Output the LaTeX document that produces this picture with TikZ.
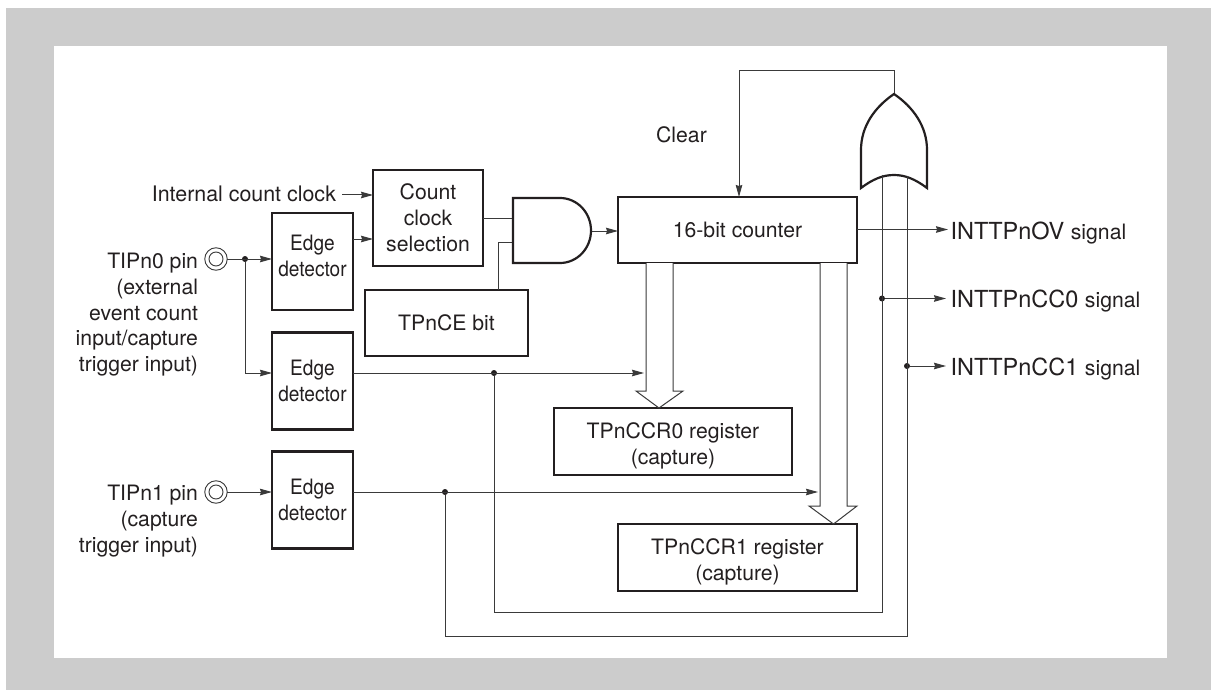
\documentclass[tikz,border=0pt]{standalone}
\usepackage{fontspec}
\usepackage{graphicx}
\setmainfont{TeX Gyre Heros}
\usetikzlibrary{arrows.meta,calc}
\definecolor{ink}{HTML}{231F20}
\definecolor{wire}{HTML}{3A3A3A}
\definecolor{bggray}{HTML}{CCCCCC}
\newcommand{\fmain}{\fontsize{21.2}{26}\selectfont}
\newcommand{\fbig}{\fontsize{23.5}{26}\selectfont}
\newcommand{\cond}[1]{\scalebox{.9}[1]{#1}}
\newcommand{\tallstrut}{\rule{0pt}{24.5pt}}
\newcommand{\deepstrut}{\rule[-10.5pt]{0pt}{10.5pt}}
\tikzset{
  x=1pt,y=-1pt,
  blk/.style={draw=ink,line width=2.2pt,fill=white,inner sep=0pt,outer sep=0pt,align=center,font=\fmain,text=ink},
  edgebox/.style={blk,minimum width=81pt,minimum height=97pt},
  lbl/.style={inner sep=0pt,outer sep=0pt,font=\fmain,text=ink},
  outlbl/.style={inner ysep=0pt,outer sep=0pt,anchor=base west,font=\fbig,text=ink},
  wireline/.style={draw=wire,line width=1pt},
  arr/.style={wireline,-{Stealth[length=12pt,width=6.5pt,inset=1pt]}},
  gate/.style={draw=ink,line width=2.2pt,fill=white,line join=miter},
  dotnode/.style={circle,fill=ink,inner sep=0pt,outer sep=0pt,minimum size=6pt},
  pinout/.style={circle,draw=wire,line width=.9pt,fill=white,inner sep=0pt,outer sep=0pt,minimum size=22.5pt},
  pinin/.style={circle,draw=wire,line width=.9pt,inner sep=0pt,outer sep=0pt,minimum size=14pt},
  bus/.style={draw=wire,line width=1pt,line join=miter,fill=white}
}
\begin{document}
\begin{tikzpicture}
\useasboundingbox (0,0) rectangle (1211,690);
\fill[bggray] (6,8) rectangle (1211,690);
\fill[white] (54,46) rectangle (1167,658);

% junction levels
\coordinate (yclk) at (0,195);
\coordinate (ye1) at (0,239);
\coordinate (ycc) at (0,218);
\coordinate (yce) at (0,242);
\coordinate (ytop) at (0,71);
\coordinate (yov) at (0,229.5);
\coordinate (yp0) at (0,259);
\coordinate (ye2) at (0,373);
\coordinate (yp1) at (0,492);
\coordinate (ylow0) at (0,612.5);
\coordinate (ylow1) at (0,636);
\coordinate (xce) at (498,0);
\coordinate (xfb) at (739,0);
\coordinate (xor0) at (882,0);
\coordinate (xor1) at (907,0);
\coordinate (xb0l) at (646,0);
\coordinate (xb0r) at (673,0);
\coordinate (xb0t) at (659,0);
\coordinate (xb1l) at (820,0);
\coordinate (xb1r) at (847,0);
\coordinate (xb1t) at (833.5,0);
\coordinate (ybh0) at (0,391);
\coordinate (ybh1) at (0,506);

% gates
\coordinate (andw) at (513,231);
\coordinate (ande) at (591,231);
\coordinate (ortip) at (894,94);
\coordinate (orarc) at (894,175);

% blocks
\node[blk,minimum width=110pt,minimum height=96pt] (cc) at (428,218) {Count\\clock\\selection};
\node[edgebox] (e1) at (312.5,261.5) {\cond{Edge}\\\cond{detector}\deepstrut};
\node[edgebox] (e2) at (312.5,381) {\cond{Edge}\\\cond{detector}};
\node[edgebox] (e3) at (312.5,500) {\cond{Edge}\\\cond{detector}};
\node[blk,minimum width=163pt,minimum height=66pt] (tce) at (446.5,323) {TPnCE bit};
\node[blk,minimum width=239pt,minimum height=66pt] (cnt) at (737.5,230) {16-bit counter};
\node[blk,minimum width=238pt,minimum height=67pt] (r0) at (673,441.5) {\tallstrut TPnCCR0 register\\(capture)};
\node[blk,minimum width=239pt,minimum height=67pt] (r1) at (737.5,557.5) {\tallstrut TPnCCR1 register\\(capture)};

% pins
\node[pinout] (p0) at (216,259) {};
\node[pinin] (p0i) at (216,259) {};
\node[pinout] (p1) at (216,492) {};
\node[pinin] (p1i) at (216,492) {};

% texts
\node[lbl,anchor=base east,font=\fontsize{21.4}{26}\selectfont] (tclk) at (336,202) {Internal count clock};
\node[lbl,anchor=north east,align=right,font=\fontsize{21.2}{25.8}\selectfont] (t0) at (198,253) {TIPn0 pin\\(external\\event count\\input/capture\\trigger input)};
\node[lbl,anchor=north east,align=right,font=\fontsize{21.2}{25.8}\selectfont] (t1) at (198,485) {TIPn1 pin\\(capture\\trigger input)};
\node[lbl] (tclr) at (681.5,135) {Clear};
\node[outlbl,inner xsep=2.5pt] (lov) at (948,239) {INTTPnOV {\fmain signal}};
\node[outlbl,inner xsep=4.5pt] (lc0) at (946,307) {INTTPnCC0 {\fmain signal}};
\node[outlbl,inner xsep=4.5pt] (lc1) at (946,375) {INTTPnCC1 {\fmain signal}};

% junction dots
\node[dotnode] (d0) at (245,259) {};
\node[dotnode] (d2) at (494,373) {};
\node[dotnode] (d3) at (445,492) {};
\node[dotnode] (d4) at (882,298.5) {};
\node[dotnode] (d5) at (907,366) {};

% connectors
\draw[arr] ([xshift=6pt]tclk.east |- yclk) -- (cc.west |- yclk);
\draw[arr] (e1.east |- ye1) -- (cc.west |- ye1);
\draw[wireline] (cc.east |- ycc) -- (andw |- ycc);
\draw[wireline] (tce.north -| xce) |- (andw |- yce);
\draw[arr] (ande) -- (cnt.west |- ande);
\draw[arr] (p0.east) -- (e1.west |- p0);
\draw[arr] (d0) |- (e2.west |- ye2);
\draw[arr] (p1.east) -- (e3.west |- p1);
\draw[arr] (e3.east |- yp1) -- ([xshift=-2pt]xb1l |- yp1);
\draw[wireline] (d2) |- (xor0 |- ylow0) -- (xor0 |- orarc);
\draw[wireline] (d3) |- (xor1 |- ylow1) -- (xor1 |- orarc);
\draw[arr] (cnt.east |- yov) -- (lov.west |- yov);
\draw[arr] (d4) -- (lc0.west |- d4);
\draw[arr] (d5) -- (lc1.west |- d5);
\draw[wireline] (ortip) -- (ortip |- ytop) -- (xfb |- ytop);
\draw[arr] (xfb |- ytop) -- (cnt.north -| xfb);

% buses
\draw[bus] (cnt.south -| xb0l) -- (xb0l |- ybh0) -- (636,391) -- (r0.north -| xb0t) -- (683,391) -- (xb0r |- ybh0) -- (cnt.south -| xb0r);
\draw[bus] (cnt.south -| xb1l) -- (xb1l |- ybh1) -- (809,506) -- (r1.north -| xb1t) -- (857,506) -- (xb1r |- ybh1) -- (cnt.south -| xb1r);
\draw[arr] (e2.east |- ye2) -- ([xshift=-2pt]xb0l |- ye2);

% gates drawn over wire ends
\draw[gate] (513,198) -- (560,198) arc[start angle=-90,end angle=90,x radius=31,y radius=32.5] -- (513,263) -- cycle;
\draw[gate] (861,188) -- (861,150) .. controls (861,126) and (875,107) .. (ortip) .. controls (913,107) and (927,126) .. (927,150) -- (927,188) .. controls (915,179) and (905,175) .. (orarc) .. controls (883,175) and (873,179) .. (861,188) -- cycle;
\draw[wireline] (xor0 |- orarc) -- (xor0 |- ylow0);
\draw[wireline] (xor1 |- orarc) ++(0,1) -- (xor1 |- ylow1);
\end{tikzpicture}
\end{document}
